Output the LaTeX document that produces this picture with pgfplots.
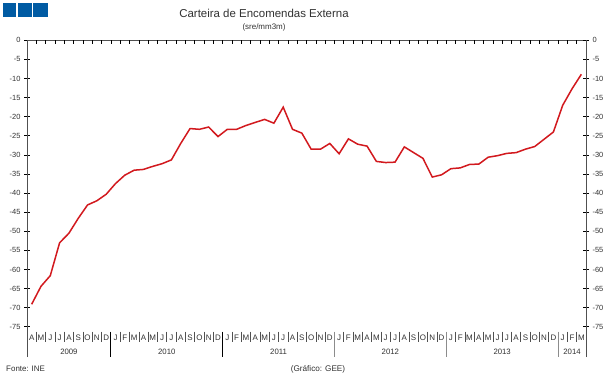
\documentclass[border=0pt]{standalone}
\usepackage{pgfplots}
\pgfplotsset{compat=1.18}
\usepackage{pgfplotstable}
\usepackage{fontspec}
\setmainfont{Liberation Sans}
\definecolor{lred}{RGB}{210,25,30}
\definecolor{sqblue}{RGB}{0,91,163}
\definecolor{axgray}{RGB}{80,80,80}
\definecolor{txtgray}{RGB}{50,50,50}
\pgfplotstableread{
x v
0.5 -69.1
1.5 -64.4
2.5 -61.6
3.5 -53.0
4.5 -50.5
5.5 -46.6
6.5 -43.1
7.5 -42.0
8.5 -40.3
9.5 -37.5
10.5 -35.3
11.5 -34.0
12.5 -33.8
13.5 -33.0
14.5 -32.3
15.5 -31.3
16.5 -27.0
17.5 -23.1
18.5 -23.3
19.5 -22.7
20.5 -25.2
21.5 -23.3
22.5 -23.3
23.5 -22.3
24.5 -21.5
25.5 -20.7
26.5 -21.7
27.5 -17.5
28.5 -23.3
29.5 -24.3
30.5 -28.5
31.5 -28.5
32.5 -27.0
33.5 -29.7
34.5 -25.8
35.5 -27.2
36.5 -27.7
37.5 -31.7
38.5 -32.0
39.5 -31.9
40.5 -27.9
41.5 -29.4
42.5 -30.9
43.5 -35.8
44.5 -35.2
45.5 -33.6
46.5 -33.4
47.5 -32.5
48.5 -32.4
49.5 -30.6
50.5 -30.2
51.5 -29.6
52.5 -29.4
53.5 -28.5
54.5 -27.8
55.5 -25.9
56.5 -24.0
57.5 -17.0
58.5 -12.7
59.5 -8.9
}\datatable
\begin{document}
\begin{tikzpicture}[x=1bp,y=1bp]
\useasboundingbox (0,0) rectangle (616,378);
\fill[white] (0,0) rectangle (616,378);
% blue squares
\fill[sqblue] (3.3,361) rectangle (15.7,374.7);
\fill[sqblue] (18.3,361) rectangle (31.7,374.7);
\fill[sqblue] (33.3,361) rectangle (48.3,374.7);
% titles
\node[text=txtgray, font=\fontsize{11.5}{13}\selectfont] at (264,365) {Carteira de Encomendas Externa};
\node[text=txtgray, font=\fontsize{8}{9}\selectfont] at (264,351) {(sre/mm3m)};
\node[text=txtgray, font=\fontsize{8}{9}\selectfont, anchor=west, inner sep=0pt] at (6,9) {Fonte: INE};
\node[text=txtgray, font=\fontsize{8.2}{9}\selectfont] at (318,9) {(Gráfico: GEE)};
\begin{axis}[at={(27bp,21bp)}, anchor=south west, scale only axis,
  width=559bp, height=316.7bp,
  xmin=0, xmax=60, ymin=-82.9, ymax=0,
  axis x line*=top, axis y line*=left,
  xtick=\empty,
  ytick={-75,-70,...,0},
  tick align=center, major tick length=6bp,
  axis line style={axgray, line width=0.8bp},
  tick style={black, line width=0.8bp},
  yticklabel style={font=\fontsize{7.5}{8}\selectfont, text=txtgray},
  /pgf/number format/assume math mode=true,
  clip=false]
\addplot[lred, line width=1.5bp, mark=none] table[x=x, y=v] {\datatable};
\end{axis}
\begin{axis}[at={(27bp,21bp)}, anchor=south west, scale only axis,
  width=559bp, height=316.7bp,
  xmin=0, xmax=60, ymin=-82.9, ymax=0,
  axis x line=none, axis y line*=right,
  ytick={-75,-70,...,0},
  tick align=center, major tick length=6bp,
  axis line style={axgray, line width=0.8bp},
  tick style={black, line width=0.8bp},
  yticklabel style={font=\fontsize{7.5}{8}\selectfont, text=txtgray},
  /pgf/number format/assume math mode=true]
\end{axis}
% top month ticks
\foreach \i in {1,...,59} {
  \draw[black, line width=0.6bp] ({27+9.3167*\i},337.7) -- ({27+9.3167*\i},334.2);
}
% month separators
\foreach \i in {1,...,8,10,11,...,20,22,23,...,32,34,35,...,44,46,47,...,56,58,59} {
  \draw[axgray, line width=0.6bp] ({27+9.3167*\i},46.3) -- ({27+9.3167*\i},35.8);
}
\foreach \i in {9,21} {
  \draw[black, line width=0.8bp] ({27+9.3167*\i},46.3) -- ({27+9.3167*\i},21);
}
\foreach \i in {33,45,57} {
  \draw[black!45, line width=0.8bp] ({27+9.3167*\i},46.3) -- ({27+9.3167*\i},21);
}
% month letters
\foreach \m [count=\i from 0] in {A,M,J,J,A,S,O,N,D,J,F,M,A,M,J,J,A,S,O,N,D,J,F,M,A,M,J,J,A,S,O,N,D,J,F,M,A,M,J,J,A,S,O,N,D,J,F,M,A,M,J,J,A,S,O,N,D,J,F,M} {
  \node[text=txtgray, font=\fontsize{8}{9}\selectfont, inner sep=0pt] at ({27+9.3167*(\i+0.5)},40) {\m};
}
% years
\foreach \y/\c in {2009/4.5,2010/15,2011/27,2012/39,2013/51,2014/58.5} {
  \node[text=txtgray, font=\fontsize{7.8}{8}\selectfont, inner sep=0pt] at ({27+9.3167*\c},25.7) {\y};
}
\end{tikzpicture}
\end{document}
